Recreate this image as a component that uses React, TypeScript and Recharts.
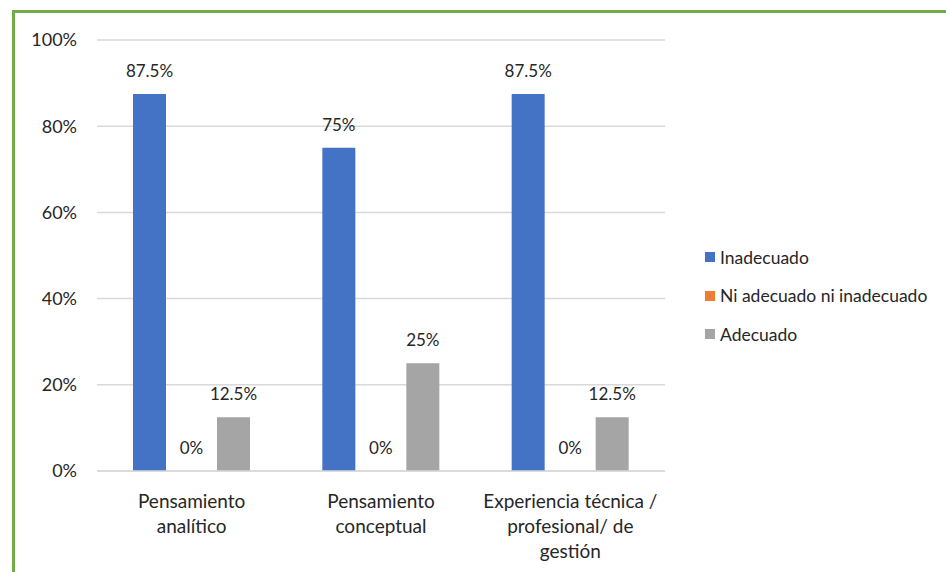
import { Bar, BarChart, CartesianGrid, LabelList, XAxis, YAxis } from "recharts"

const categories = [
  "Pensamiento\nanalítico",
  "Pensamiento\nconceptual",
  "Experiencia técnica /\nprofesional/ de\ngestión",
]
const inadecuado = [87.5, 75, 87.5]
const niAdecuado = [0, 0, 0]
const adecuado = [12.5, 25, 12.5]
const yTicks = [0, 20, 40, 60, 80, 100]

const data = categories.map((name, i) => ({
  name,
  inadecuado: inadecuado[i],
  ni: niAdecuado[i],
  adecuado: adecuado[i],
}))

const FONT = "Lato, 'Open Sans', sans-serif"
const TEXT = "#262626"

const series = [
  { key: "inadecuado", name: "Inadecuado", color: "#4472C4" },
  { key: "ni", name: "Ni adecuado ni inadecuado", color: "#ED7D31" },
  { key: "adecuado", name: "Adecuado", color: "#A5A5A5" },
]

const CategoryTick = ({ x, y, payload }: any) => {
  const lines = String(payload.value).split("\n")
  return (
    <text x={x} y={y} textAnchor="middle" fill={TEXT} fontSize={19} fontFamily={FONT}>
      {lines.map((line, i) => (
        <tspan key={i} x={x} dy={i === 0 ? 29 : 25}>
          {line}
        </tspan>
      ))}
    </text>
  )
}

const ChartLegend = () => (
  <div
    style={{
      position: "absolute",
      left: 705,
      top: 238,
      fontFamily: FONT,
      fontSize: 17.5,
      color: TEXT,
    }}
  >
    {series.map((s) => (
      <div key={s.key} style={{ display: "flex", alignItems: "center", height: 38.5 }}>
        <div style={{ width: 10, height: 10, background: s.color, marginRight: 5 }} />
        <span>{s.name}</span>
      </div>
    ))}
  </div>
)

export default function App() {
  return (
    <div
      style={{
        position: "absolute",
        left: 0,
        top: 0,
        width: 946,
        height: 572,
        overflow: "hidden",
        background: "#fff",
      }}
    >
      <div
        style={{
          position: "absolute",
          left: 12,
          top: 10,
          width: 960,
          height: 600,
          border: "3px solid #70AD47",
        }}
      />
      <div style={{ position: "absolute", left: 0, top: 0 }}>
        <BarChart
          width={946}
          height={572}
          data={data}
          margin={{ top: 40, right: 281, bottom: 11, left: 0 }}
          barSize={33}
          barGap={9}
        >
          <CartesianGrid vertical={false} stroke="#D9D9D9" strokeWidth={1.5} />
          <XAxis
            dataKey="name"
            height={90}
            tickLine={false}
            axisLine={{ stroke: "#D9D9D9", strokeWidth: 1.5 }}
            tick={<CategoryTick />}
            interval={0}
          />
          <YAxis
            width={97}
            domain={[0, 100]}
            ticks={yTicks}
            axisLine={false}
            tickLine={false}
            tickSize={0}
            tickMargin={20}
            tickFormatter={(v) => `${v}%`}
            tick={{ fill: TEXT, fontSize: 18, fontFamily: FONT }}
          />
          {series.map((s) => (
            <Bar
              key={s.key}
              dataKey={s.key}
              name={s.name}
              fill={s.color}
              minPointSize={0.01}
              isAnimationActive={false}
            >
              <LabelList
                dataKey={s.key}
                position="top"
                offset={17}
                formatter={(v: any) => `${v}%`}
                fill={TEXT}
                fontSize={17}
                fontFamily={FONT}
              />
            </Bar>
          ))}
        </BarChart>
      </div>
      <ChartLegend />
    </div>
  )
}
